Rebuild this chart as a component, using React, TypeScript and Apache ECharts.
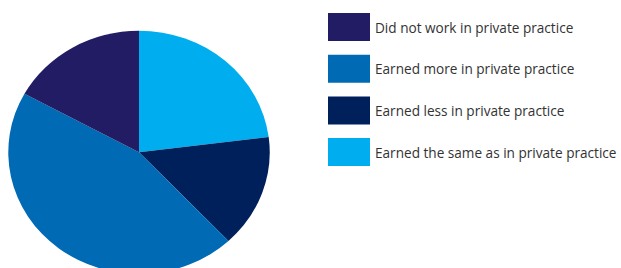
import React, { useEffect, useRef } from "react";
import * as echarts from "echarts";

const categories = [
  "Earned the same as in private practice",
  "Earned less in private practice",
  "Earned more in private practice",
  "Did not work in private practice",
];
const values = [23, 15, 45, 17];
const colors = ["#00AEEF", "#00205C", "#006AB5", "#211C63"];
const legendOrder = [
  "Did not work in private practice",
  "Earned more in private practice",
  "Earned less in private practice",
  "Earned the same as in private practice",
];

export default function App() {
  const pieRef = useRef<HTMLDivElement>(null);
  const legRef = useRef<HTMLDivElement>(null);

  useEffect(() => {
    const data = categories.map((name, i) => ({
      name,
      value: values[i],
      itemStyle: { color: colors[i] },
    }));
    const pie = echarts.init(pieRef.current!, undefined, { renderer: "svg" });
    pie.setOption({
      animation: false,
      series: [
        {
          type: "pie",
          center: [139, 152.3],
          radius: 121.6,
          startAngle: 90,
          clockwise: true,
          silent: true,
          label: { show: false },
          labelLine: { show: false },
          itemStyle: { borderWidth: 0 },
          data,
        },
      ],
    });
    const leg = echarts.init(legRef.current!, undefined, { renderer: "svg" });
    leg.setOption({
      animation: false,
      legend: {
        orient: "vertical",
        left: 28,
        top: 13,
        padding: 0,
        icon: "rect",
        itemWidth: 42,
        itemHeight: 28,
        itemGap: 13.7,
        selectedMode: false,
        data: legendOrder,
        textStyle: { fontFamily: "Open Sans", fontSize: 13.6, color: "#333333" },
      },
      series: [
        {
          type: "pie",
          center: [-1000, -1000],
          radius: 0,
          silent: true,
          label: { show: false },
          labelLine: { show: false },
          data,
        },
      ],
    });
    return () => {
      pie.dispose();
      leg.dispose();
    };
  }, []);

  return (
    <div
      style={{
        position: "fixed",
        left: 0,
        top: 0,
        width: 621,
        height: 268,
        background: "#ffffff",
        overflow: "hidden",
      }}
    >
      <div
        ref={pieRef}
        style={{
          position: "absolute",
          left: 0,
          top: 0,
          width: 290,
          height: 268,
          transform: "scaleX(1.075)",
          transformOrigin: "139px 152px",
        }}
      />
      <div
        ref={legRef}
        style={{
          position: "absolute",
          left: 300,
          top: 0,
          width: 321,
          height: 268,
        }}
      />
    </div>
  );
}
